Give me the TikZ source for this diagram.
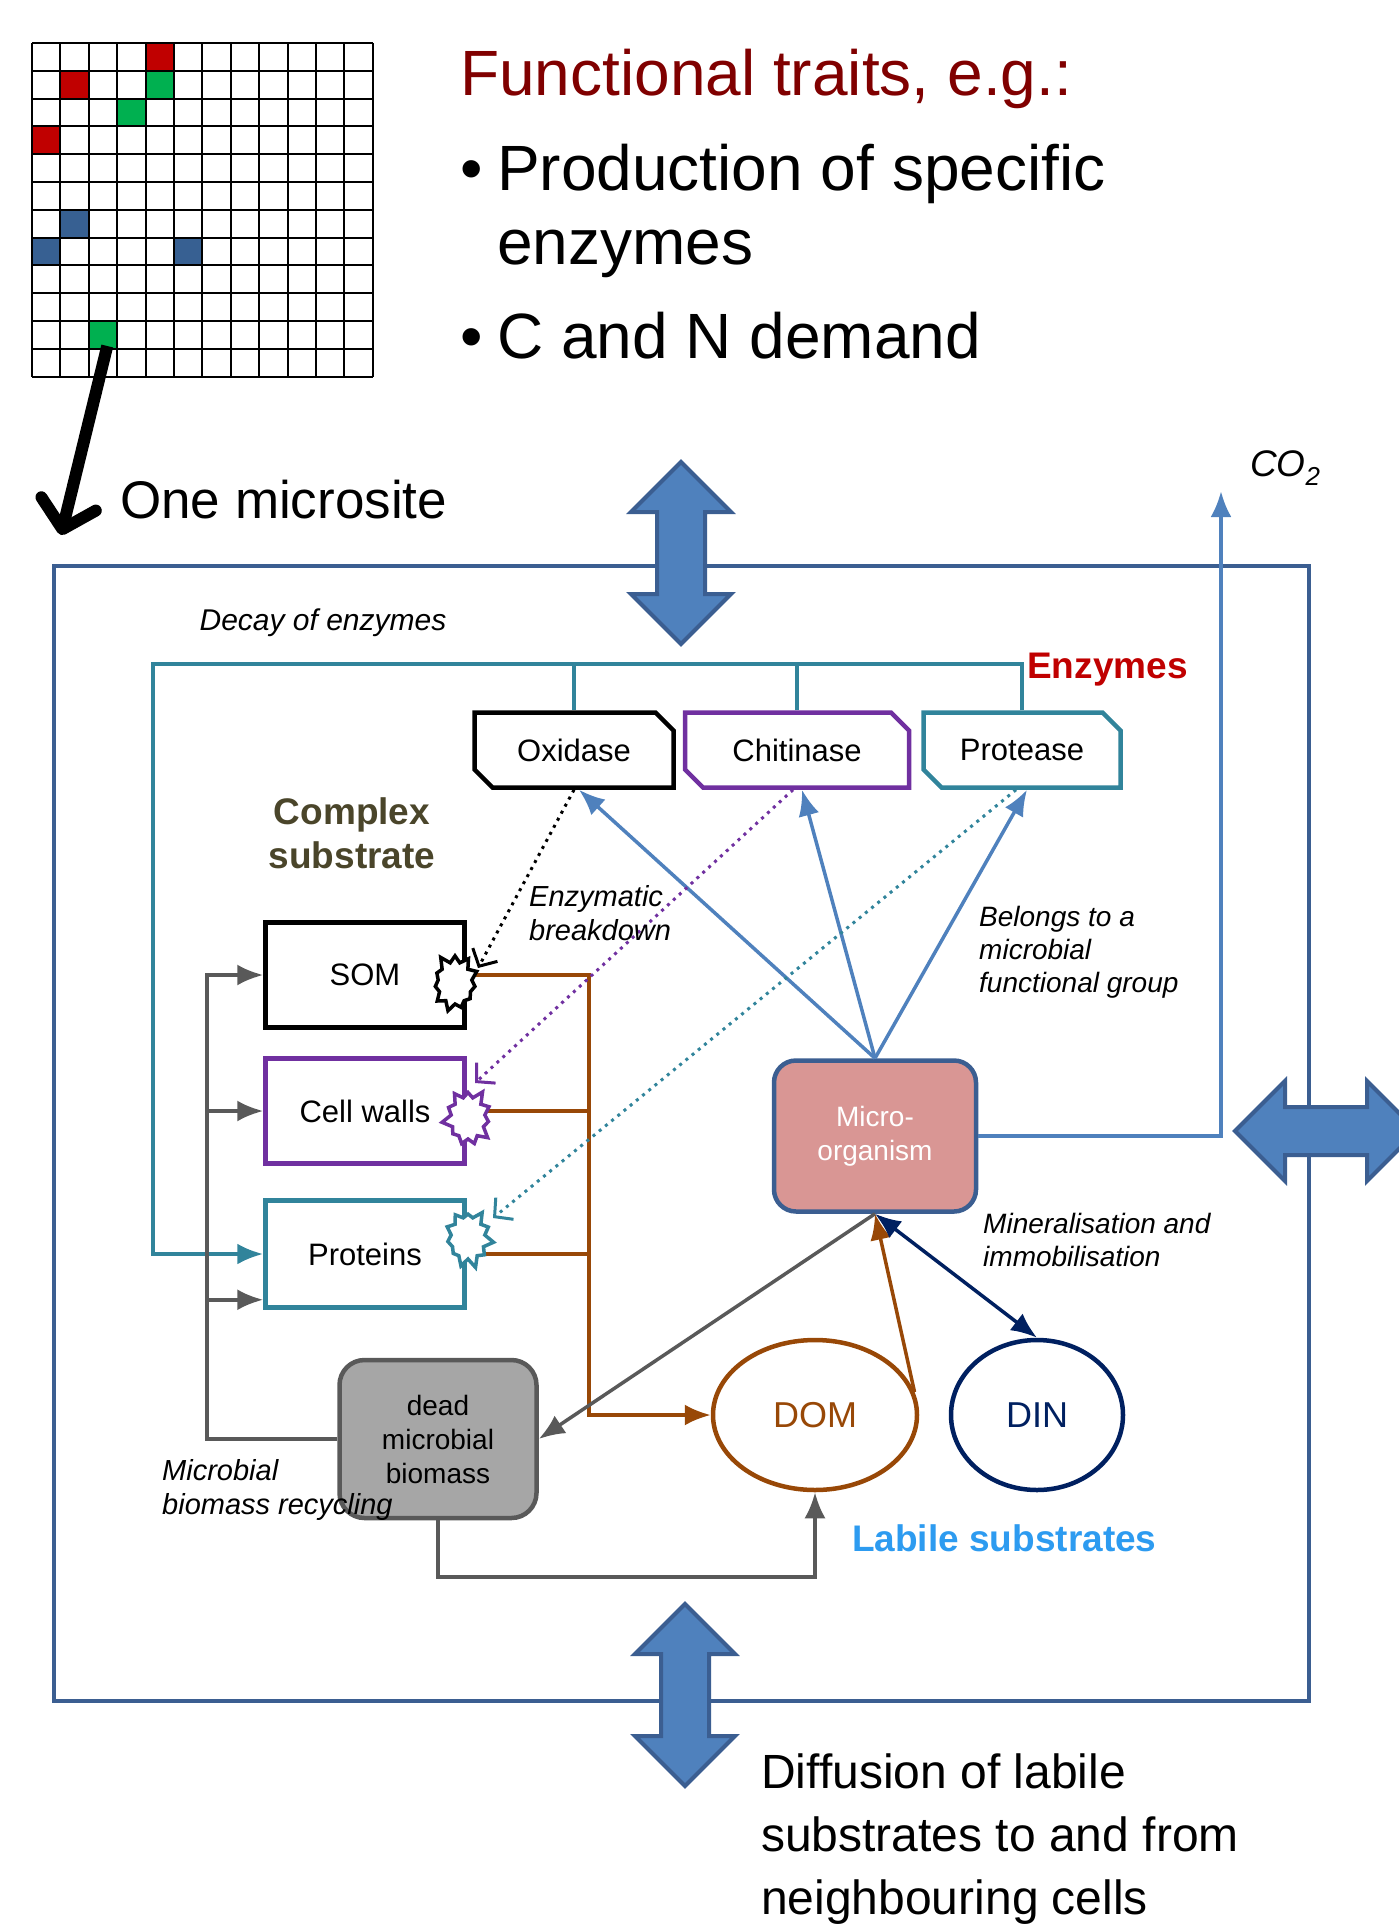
\documentclass[tikz,border=0pt]{standalone}
\usepackage{fontspec}
\setmainfont{Liberation Sans}
\usetikzlibrary{arrows.meta,shapes.misc,shapes.symbols,shapes.geometric}

\definecolor{traitred}{HTML}{800000}
\definecolor{cellred}{HTML}{C00000}
\definecolor{cellgreen}{HTML}{00B050}
\definecolor{cellblue}{HTML}{376092}
\definecolor{siteblue}{HTML}{3B5E91}
\definecolor{arrowblue}{HTML}{4F81BD}
\definecolor{enzteal}{HTML}{31849B}
\definecolor{chitpurple}{HTML}{7030A0}
\definecolor{dombrown}{HTML}{984807}
\definecolor{dinnavy}{HTML}{002060}
\definecolor{deadgray}{HTML}{595959}
\definecolor{deadfill}{HTML}{A6A6A6}
\definecolor{micropink}{HTML}{D99694}
\definecolor{enzred}{HTML}{C00000}
\definecolor{complexolive}{HTML}{4A452A}
\definecolor{labileblue}{HTML}{2D9BF0}

\begin{document}
\begin{tikzpicture}[x=1pt, y=-1pt,
    >={Latex[length=26pt,width=21pt]},
    every node/.style={inner sep=0pt},
    bigtext/.style={font=\fontsize{64}{76}\selectfont, anchor=base west},
    sitebox/.style={draw=siteblue, line width=4.5pt},
    exchange/.style={fill=arrowblue, draw=siteblue, line width=4pt},
    enzbox/.style={chamfered rectangle, chamfered rectangle corners={north east,south west},
        chamfered rectangle xsep=9pt, chamfered rectangle ysep=9pt, minimum height=75pt,
        line width=4.5pt, fill=white, font=\fontsize{31}{37}\selectfont},
    subbox/.style={rectangle, minimum width=199pt, minimum height=105pt, line width=4.5pt,
        fill=white, font=\fontsize{31}{37}\selectfont},
    burst/.style={starburst, starburst points=11, starburst point height=10pt, fill=white,
        line width=3.5pt, minimum width=54pt, minimum height=62pt},
    pool/.style={ellipse, minimum height=150pt, line width=4.5pt, font=\fontsize{36}{43}\selectfont},
    note/.style={font=\itshape\fontsize{29}{34}\selectfont, align=left},
    heading/.style={font=\bfseries\fontsize{37}{44}\selectfont},
    tealline/.style={draw=enzteal, line width=4pt},
    brownline/.style={draw=dombrown, line width=3.5pt},
    blueline/.style={draw=arrowblue, line width=3.5pt},
    grayline/.style={draw=deadgray, line width=3.5pt},
    navyline/.style={draw=dinnavy, line width=3.5pt},
    breakdown/.style={line width=3pt, dash pattern=on 3pt off 5pt, -{Straight Barb[length=13pt,width=28pt]}}
]
\useasboundingbox (0,0) rectangle (1399,1924);

% grid of microsites
\begin{scope}[shift={(32,43)}]
    \foreach \i/\j/\col in {4/0/cellred,1/1/cellred,0/3/cellred,4/1/cellgreen,3/2/cellgreen,2/10/cellgreen,1/6/cellblue,0/7/cellblue,5/7/cellblue}
        \fill[fill=\col] (\i*28.4,\j*27.8) rectangle ++(28.4,27.8);
    \foreach \k in {0,...,12} {
        \draw[line width=2pt] (\k*28.4,0) -- (\k*28.4,333.6);
        \draw[line width=2pt] (0,\k*27.8) -- (340.8,\k*27.8);
    }
    \coordinate (site) at (2.65*28.4,10.9*27.8);
\end{scope}
\coordinate (pick) at (61,535);
\draw[line width=12pt, -{Straight Barb[length=26pt,width=56pt,round]}] (site) -- (pick);

% functional traits
\node[bigtext, text=traitred] (traits) at (460,96) {Functional traits, e.g.:};
\node[bigtext] (dot1) at (460,190) {\textbullet};
\node[bigtext] (trait1) at (497,190) {Production of specific};
\node[bigtext] (trait1b) at (497,264) {enzymes};
\node[bigtext] (dot2) at (460,358) {\textbullet};
\node[bigtext] (trait2) at (497,358) {C and N demand};
\node[font=\fontsize{53}{63}\selectfont, anchor=base west] (onesite) at (120,518) {One microsite};

% the microsite
\draw[sitebox] (54,566) rectangle (1309,1701);

\node[enzbox, draw=black, minimum width=199pt] (oxidase) at (574,750) {Oxidase};
\node[enzbox, draw=chitpurple, minimum width=224pt] (chitinase) at (797,750) {Chitinase};
\node[enzbox, draw=enzteal, minimum width=197pt] (protease) at (1022,750) {Protease};

\node[subbox, draw=black] (som) at (365,975) {SOM};
\node[subbox, draw=chitpurple] (cellwall) at (365,1111) {Cell walls};
\node[subbox, draw=enzteal, minimum height=107pt] (protein) at (365,1254) {Proteins};

\node[rounded corners=22pt, fill=micropink, draw=siteblue, line width=4.5pt, minimum width=202pt,
    minimum height=151pt, text=white, align=center, font=\fontsize{28}{34}\selectfont] (micro) at (875,1136) {Micro-\\organism};
\node[rounded corners=25pt, fill=deadfill, draw=deadgray, line width=4.5pt, minimum width=197pt,
    minimum height=158pt, align=center, font=\fontsize{28}{34}\selectfont] (dead) at (438,1439) {dead\\microbial\\biomass};

\node[pool, draw=dombrown, text=dombrown, minimum width=204pt] (dom) at (815,1415) {DOM};
\node[pool, draw=dinnavy, text=dinnavy, minimum width=172pt] (din) at (1037,1415) {DIN};

% decay of enzymes
\coordinate (decay) at (153,664);
\draw[tealline, ->] (protease.north) |- (decay) |- (protein.west);
\draw[tealline] (oxidase.north) -- (oxidase.north |- decay);
\draw[tealline] (chitinase.north) -- (chitinase.north |- decay);

% microorganism makes the enzymes
\foreach \e in {oxidase,chitinase,protease}
    \draw[blueline, ->] (micro.north) -- ([xshift=5pt]\e.south);

% CO2
\coordinate (co2tip) at (1221,491);
\draw[blueline, line width=4pt, ->] (micro.east) -| (co2tip);
\node[font=\itshape\fontsize{37}{44}\selectfont, anchor=west] (co2) at (1250,468) {CO\textsubscript{2}};

% substrates to DOM
\coordinate (feed) at (589,1415);
\draw[brownline, ->] (som.east) -| (feed) -- (dom.west);
\draw[brownline] (cellwall.east) -- (cellwall.east -| feed);
\draw[brownline] (protein.east) -- (protein.east -| feed);

\node[burst, draw=black, random starburst=5] (bsom) at (455,983) {};
\node[burst, draw=chitpurple, random starburst=9] (bcell) at (468,1118) {};
\node[burst, draw=enzteal, random starburst=13] (bprot) at (468,1238) {};

% enzymatic breakdown
\draw[breakdown, draw=black] (oxidase.south) -- ([shift={(23,-15)}]bsom.center);
\draw[breakdown, draw=chitpurple] ([xshift=-4pt]chitinase.south) -- ([shift={(7,-35)}]bcell.center);
\draw[breakdown, draw=enzteal] ([xshift=-6pt]protease.south) -- ([shift={(25,-20)}]bprot.center);

% uptake, death, mineralisation
\draw[grayline, ->] (micro.south) -- (dead.east);
\draw[brownline, ->] (dom.13) -- (micro.south);
\draw[navyline, <->] (micro.south) -- (din.north);

% recycling of dead biomass
\coordinate (recycle) at (207,1439);
\coordinate (lowin) at ([yshift=10pt]protein.south west);
\coordinate (below) at (815,1577);
\draw[grayline, ->] (dead.west) -- (recycle) |- (som.west);
\draw[grayline, ->] (recycle |- cellwall.west) -- (cellwall.west);
\draw[grayline, ->] (recycle |- lowin) -- (lowin);
\draw[grayline, ->] (dead.south) |- (below) -- (dom.south);

% labels
\node[note, font=\itshape\fontsize{30}{35}\selectfont] (decaytext) at (323,623) {Decay of enzymes};
\node[heading, text=enzred, anchor=west] (enzymes) at (1027,670) {Enzymes};
\node[heading, text=complexolive, align=center] (complex) at (352,833) {Complex\\substrate};
\node[note, anchor=west] (breaktext) at (529,913) {Enzymatic\\breakdown};
\node[note, font=\itshape\fontsize{28}{33}\selectfont, anchor=west] (belongs) at (979,952) {Belongs to a\\microbial\\functional group};
\node[note, font=\itshape\fontsize{28}{33}\selectfont, anchor=west] (mineral) at (983,1240) {Mineralisation and\\immobilisation};
\node[note, anchor=west] (recyctext) at (162,1490) {Microbial\\biomass recycling};
\node[heading, text=labileblue, anchor=west] (labile) at (852,1538) {Labile substrates};

% exchange with neighbouring cells
\foreach \cx/\cy/\rot in {681/553/0, 1326/1131/90, 685/1695/0}
    \draw[exchange, shift={(\cx,\cy)}, rotate=\rot] (0,-91) -- (50,-41) -- (24,-41) -- (24,41) -- (50,41)
        -- (0,91) -- (-50,41) -- (-24,41) -- (-24,-41) -- (-50,-41) -- cycle;

\node[font=\fontsize{48}{63}\selectfont, anchor=base west] (diff1) at (761,1788) {Diffusion of labile};
\node[font=\fontsize{48}{63}\selectfont, anchor=base west] (diff2) at (761,1851) {substrates to and from};
\node[font=\fontsize{48}{63}\selectfont, anchor=base west] (diff3) at (761,1914) {neighbouring cells};
\end{tikzpicture}
\end{document}
